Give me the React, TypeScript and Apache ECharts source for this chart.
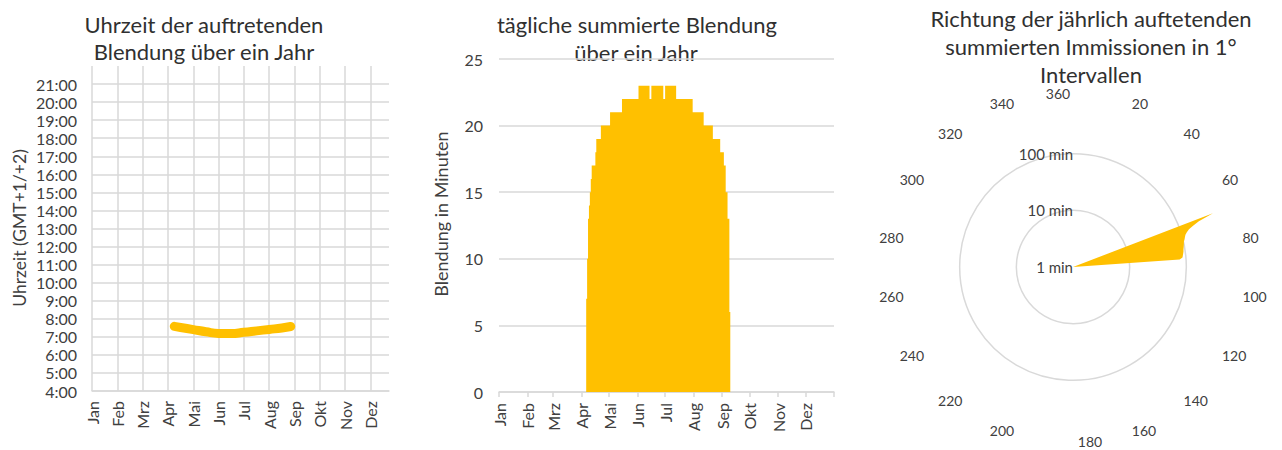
import React, { useEffect, useRef } from 'react';
import * as echarts from 'echarts';

// ---------- data ----------
const monthLabels = ['Jan', 'Feb', 'Mrz', 'Apr', 'Mai', 'Jun', 'Jul', 'Aug', 'Sep', 'Okt', 'Nov', 'Dez'];
const monthStartDays = [0, 31, 59, 90, 120, 151, 181, 212, 243, 273, 304, 334];
const yearEndDay = 365;

// left chart: time of day of glare (month as fraction, hour as decimal)
const glareMonth = [3.25, 3.5, 4.0, 4.5, 5.0, 5.5, 6.0, 6.5, 7.0, 7.5, 7.85];
const glareHour = [7.58, 7.52, 7.4, 7.28, 7.19, 7.18, 7.25, 7.33, 7.41, 7.49, 7.57];

// middle chart: daily summed glare in minutes, starting at day-of-year 95
const dailyStartDay = 95;
const dailyMinutes = [
  7, 10, 13, 14, 15, 16,
  17, 17, 17, 17,
  18,
  19, 19, 19, 19, 19,
  20, 20, 20, 20, 20, 20, 20, 20, 20, 20,
  21, 21, 21, 21, 21, 21, 21, 21, 21, 21, 21, 21, 21,
  22, 22, 22, 22, 22, 22, 22, 22, 22, 22, 22, 22, 22, 22, 22, 22, 22, 22,
  23, 23, 23, 23, 23, 23, 23, 23, 23, 23, 23, 23,
  22, 22,
  23, 23, 23, 23, 23, 23, 23, 23, 23, 23, 23, 23, 23,
  22, 22,
  23, 23, 23, 23, 23, 23, 23, 23, 23, 23, 23, 23,
  22, 22, 22, 22, 22, 22, 22, 22, 22, 22, 22, 22, 22, 22, 22, 22, 22, 22,
  21, 21, 21, 21, 21, 21, 21, 21, 21, 21, 21, 21,
  20, 20, 20, 20, 20, 20, 20, 20, 20, 20,
  19, 19, 19, 19, 19, 19, 19, 19,
  18, 18, 18, 18,
  17, 17,
  15, 15,
  13, 13,
  6,
];

// right chart: direction (degrees) and yearly summed minutes
const dirAngles = [68, 69, 70, 71, 72, 73, 74, 75, 76, 77, 78, 79, 80, 81, 82, 83, 84, 85, 86, 87];
const dirMinutes = [1, 442, 231, 174, 142, 126, 116, 111, 107, 102, 100, 98, 96, 94, 93, 91, 89, 87, 77, 1];

const FONT = 'Lato';
const LABEL = '#404040';
const TITLE = '#303030';
const GRID = '#D9D9D9';
const GOLD = '#FFC000';

function text(x: number, y: number, t: string, size: number, rotation = 0, color = TITLE) {
  return {
    type: 'text',
    x,
    y,
    rotation,
    silent: true,
    style: {
      text: t,
      fill: color,
      font: `${size}px ${FONT}`,
      fontSize: size,
      fontFamily: FONT,
      align: 'center',
      verticalAlign: 'middle',
      textAlign: 'center',
      textVerticalAlign: 'middle',
    },
  };
}

export default function App() {
  const ref = useRef<HTMLDivElement>(null);

  useEffect(() => {
    if (!ref.current) return;
    const chart = echarts.init(ref.current, undefined, { renderer: 'svg' });

    const leftData = glareMonth.map((m, i) => [m, glareHour[i]]);
    const dailyData: number[][] = dailyMinutes.map((v, i) => [dailyStartDay + i, v]);
    dailyData.push([dailyStartDay + dailyMinutes.length, 0]);

    const angStyle = { fontSize: 14, fontFamily: FONT, color: LABEL, lineHeight: 4 };

    const option: any = {
      animation: false,
      textStyle: { fontFamily: FONT },
      grid: [
        { left: 92, top: 66, width: 297, height: 325, outerBoundsMode: 'none' },
        { left: 499, top: 59, width: 335, height: 333, outerBoundsMode: 'none' },
      ],
      xAxis: [
        {
          gridIndex: 0,
          type: 'value',
          min: 0,
          max: 11.73,
          interval: 1,
          axisLine: { show: true, lineStyle: { color: GRID, width: 1.5 } },
          axisTick: { show: false },
          splitLine: { show: true, showMaxLine: false, lineStyle: { color: GRID, width: 1.5 } },
          axisLabel: {
            rotate: 90,
            margin: 10,
            fontSize: 16,
            fontFamily: FONT,
            color: LABEL,
            showMaxLabel: false,
            formatter: (v: number) =>
              monthLabels[Math.round(v)] && Math.abs(v - Math.round(v)) < 1e-6 ? monthLabels[Math.round(v)] : '',
          },
        },
        {
          gridIndex: 1,
          type: 'value',
          min: 0,
          max: yearEndDay,
          axisLine: { show: true, lineStyle: { color: GRID, width: 1.5 } },
          axisTick: {
            show: true,
            length: 5,
            customValues: [...monthStartDays, yearEndDay],
            lineStyle: { color: GRID, width: 1.5 },
          },
          splitLine: { show: false },
          axisLabel: {
            rotate: 90,
            margin: 11,
            fontSize: 16,
            fontFamily: FONT,
            color: LABEL,
            customValues: monthStartDays,
            formatter: (v: number) => {
              const i = monthStartDays.indexOf(Math.round(v));
              return i >= 0 ? monthLabels[i] : '';
            },
          },
        },
      ],
      yAxis: [
        {
          gridIndex: 0,
          type: 'value',
          min: 4,
          max: 22,
          interval: 1,
          axisLine: { show: false },
          axisTick: { show: false },
          splitLine: { show: true, showMaxLine: false, lineStyle: { color: GRID, width: 1.5 } },
          axisLabel: {
            margin: 15,
            fontSize: 16,
            fontFamily: FONT,
            color: LABEL,
            showMaxLabel: false,
            formatter: (v: number) => (v >= 22 ? '' : `${Math.round(v)}:00`),
          },
        },
        {
          gridIndex: 1,
          type: 'value',
          min: 0,
          max: 25,
          interval: 5,
          axisLine: { show: false },
          axisTick: { show: false },
          splitLine: { show: true, lineStyle: { color: GRID, width: 1.5 } },
          axisLabel: { margin: 16, fontSize: 16, fontFamily: FONT, color: LABEL },
        },
      ],
      polar: { center: [1073, 267], radius: 170 },
      angleAxis: {
        polarIndex: 0,
        type: 'value',
        min: 0,
        max: 360,
        interval: 20,
        startAngle: 90,
        clockwise: true,
        axisLine: { show: false },
        axisTick: { show: false },
        splitLine: { show: false },
        axisLabel: {
          margin: 2,
          ...angStyle,
          formatter: (v: number) => {
            const d = Math.round(v);
            if (d % 360 === 0) return '{l|360}';
            if (d === 180) return '{r|180}';
            return `{n|${d}}`;
          },
          rich: {
            n: { ...angStyle },
            l: { ...angStyle, padding: [0, 30, 0, 0] },
            r: { ...angStyle, padding: [0, 0, 0, 34] },
          },
        },
      },
      radiusAxis: {
        polarIndex: 0,
        type: 'log',
        logBase: 10,
        min: 1,
        max: 1000,
        axisLine: { show: false },
        axisTick: { show: false },
        splitLine: {
          show: true,
          lineStyle: { color: [GRID, GRID, GRID, 'rgba(0,0,0,0)'], width: 1.5 },
        },
        axisLabel: {
          margin: 0,
          fontSize: 15,
          fontFamily: FONT,
          color: LABEL,
          padding: [8, 0, 0, 0],
          formatter: (v: number) => (Math.round(v) >= 1000 ? '' : `${Math.round(v)} min`),
        },
      },
      series: [
        {
          type: 'line',
          xAxisIndex: 0,
          yAxisIndex: 0,
          data: leftData,
          smooth: true,
          showSymbol: false,
          lineStyle: { color: GOLD, width: 9, cap: 'round' },
          silent: true,
        },
        {
          type: 'line',
          xAxisIndex: 1,
          yAxisIndex: 1,
          data: dailyData,
          step: 'end',
          showSymbol: false,
          lineStyle: { width: 0, color: GOLD },
          areaStyle: { color: GOLD, opacity: 1 },
          silent: true,
        },
        {
          type: 'custom',
          coordinateSystem: 'polar',
          polarIndex: 0,
          data: [[1, 0]],
          silent: true,
          renderItem: (_params: any, api: any) => {
            const pts = dirAngles.map((a, i) => api.coord([dirMinutes[i], a]));
            return { type: 'polygon', shape: { points: pts }, style: { fill: GOLD } };
          },
        },
      ],
      graphic: [
        text(204, 24, 'Uhrzeit der auftretenden', 22),
        text(204, 51, 'Blendung über ein Jahr', 22),
        text(637, 24, 'tägliche summierte Blendung', 22),
        text(636, 52, 'über ein Jahr', 22),
        text(1091, 18, 'Richtung der jährlich auftetenden', 22),
        text(1091, 46, 'summierten Immissionen in 1°', 22),
        text(1091, 74, 'Intervallen', 22),
        text(19, 228, 'Uhrzeit (GMT+1/+2)', 17.5, Math.PI / 2, LABEL),
        text(441, 214, 'Blendung in Minuten', 18, Math.PI / 2, LABEL),
      ],
    };

    chart.setOption(option);
    return () => chart.dispose();
  }, []);

  return (
    <div
      ref={ref}
      style={{ position: 'fixed', left: 0, top: 0, width: 1282, height: 450, background: '#fff' }}
    />
  );
}
